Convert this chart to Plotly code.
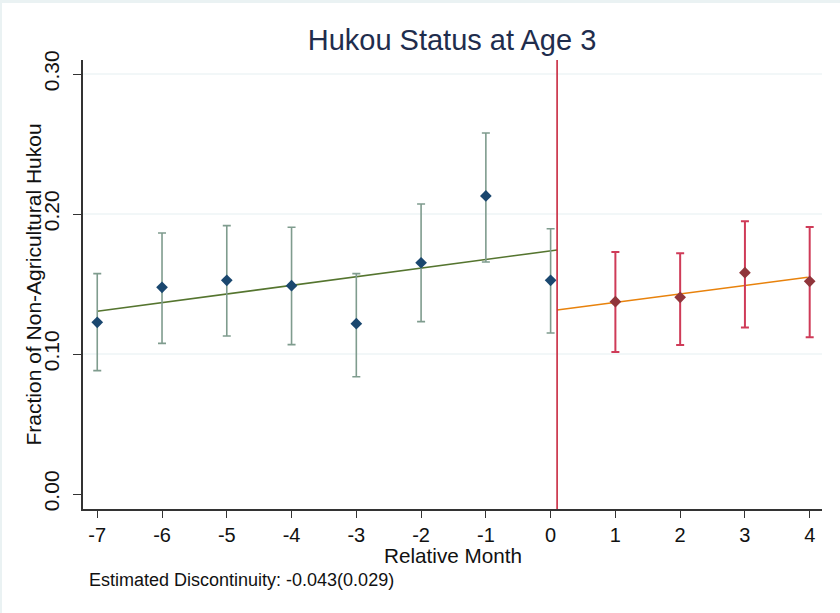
import plotly.graph_objects as go

# Binned means with 95% confidence intervals, by month relative to the cutoff
months_pre = [-7, -6, -5, -4, -3, -2, -1, 0]
mean_pre = [0.1226, 0.1476, 0.1526, 0.1488, 0.1217, 0.1652, 0.2129, 0.1526]
lo_pre = [0.0881, 0.1076, 0.1129, 0.1067, 0.0838, 0.1231, 0.1657, 0.1150]
hi_pre = [0.1574, 0.1864, 0.1917, 0.1905, 0.1574, 0.2071, 0.2579, 0.1895]

months_post = [1, 2, 3, 4]
mean_post = [0.1374, 0.1405, 0.1581, 0.1519]
lo_post = [0.1014, 0.1064, 0.1190, 0.1119]
hi_post = [0.1729, 0.1719, 0.1948, 0.1907]

# Linear fits on each side of the cutoff
cutoff = 0.1
fit_pre_x = [-7, cutoff]
fit_pre_y = [0.1305, 0.1743]
fit_post_x = [cutoff, 3.97]
fit_post_y = [0.1314, 0.1548]

x_ticks = list(range(-7, 5))
x_tick_text = ["-7", "-6", "-5", "-4", "-3", "-2", "-1", "0", "1", "2", "3", "4"]
y_ticks = [0.0, 0.1, 0.2, 0.3]
y_tick_text = ["0.00", "0.10", "0.20", "0.30"]
grid_levels = [0.1, 0.2, 0.3]

title_text = "Hukou Status at Age 3"
x_title = "Relative Month"
y_title = "Fraction of Non-Agricultural Hukou"
note_text = "Estimated Discontinuity: -0.043(0.029)"

FONT = "Liberation Sans, Arial, sans-serif"
W, H = 840, 613
L, R, T, B = 83, 18, 60, 104
plot_h = H - T - B
plot_w = W - L - R


def py(px):
    """Figure pixel row -> paper y coordinate."""
    return (H - B - px) / plot_h


def pxp(px):
    """Figure pixel column -> paper x coordinate."""
    return (px - L) / plot_w


fig = go.Figure()

fig.add_trace(go.Scatter(
    x=fit_pre_x, y=fit_pre_y, mode="lines",
    line=dict(color="#55752f", width=1.6), hoverinfo="skip",
))
fig.add_trace(go.Scatter(
    x=fit_post_x, y=fit_post_y, mode="lines",
    line=dict(color="#e8820c", width=1.6), hoverinfo="skip",
))

fig.add_trace(go.Scatter(
    x=months_pre, y=mean_pre, mode="markers",
    marker=dict(symbol="diamond", size=9, color="#1a476f"),
    error_y=dict(
        type="data", symmetric=False,
        array=[h - m for h, m in zip(hi_pre, mean_pre)],
        arrayminus=[m - l for m, l in zip(mean_pre, lo_pre)],
        color="#7f9c8e", thickness=1.6, width=4,
    ),
))
fig.add_trace(go.Scatter(
    x=months_post, y=mean_post, mode="markers",
    marker=dict(symbol="diamond", size=9, color="#90353b"),
    error_y=dict(
        type="data", symmetric=False,
        array=[h - m for h, m in zip(hi_post, mean_post)],
        arrayminus=[m - l for m, l in zip(mean_post, lo_post)],
        color="#cf3b58", thickness=2, width=4,
    ),
))

shapes = [
    # white graph region inside a thin light frame
    dict(type="rect", xref="paper", yref="paper", layer="below",
         x0=pxp(2), x1=pxp(W + 2), y0=py(H + 2), y1=py(3),
         fillcolor="white", line=dict(width=0)),
]
for g in grid_levels:
    shapes.append(dict(type="line", xref="paper", yref="y", layer="below",
                       x0=0, x1=1, y0=g, y1=g,
                       line=dict(color="#e6eff1", width=1.2)))
shapes.append(dict(type="line", xref="x", yref="paper",
                   x0=cutoff, x1=cutoff, y0=0, y1=1,
                   line=dict(color="#c8283f", width=1.6)))

annotations = [
    dict(text=x_title, xref="paper", yref="paper", x=0.5, y=py(555),
         xanchor="center", yanchor="middle", showarrow=False,
         font=dict(family=FONT, size=20.7, color="#111")),
    dict(text=y_title, xref="paper", yref="paper", x=pxp(33), y=0.5,
         xanchor="center", yanchor="middle", showarrow=False, textangle=-90,
         font=dict(family=FONT, size=21, color="#111")),
    dict(text=note_text, xref="paper", yref="paper", x=pxp(87), y=py(580),
         xanchor="left", yanchor="middle", showarrow=False,
         font=dict(family=FONT, size=18, color="#111")),
]

fig.update_layout(
    width=W, height=H,
    margin=dict(l=L, r=R, t=T, b=B, pad=0),
    paper_bgcolor="#eaf2f3",
    plot_bgcolor="white",
    showlegend=False,
    title=dict(text=title_text, x=pxp(452), xref="paper", xanchor="center",
               y=1 - 40 / H, yref="container", yanchor="middle",
               font=dict(family=FONT, size=29, color="#1f2d4d")),
    shapes=shapes,
    annotations=annotations,
)

fig.update_xaxes(
    range=[-7.22, 4.19], tickmode="array", tickvals=x_ticks,
    ticktext=x_tick_text,
    ticks="outside", ticklen=7, tickwidth=1.4, tickcolor="#333",
    showline=True, linecolor="#333", linewidth=1.6,
    showgrid=False, zeroline=False,
    tickfont=dict(family=FONT, size=20, color="#111"),
)
fig.update_yaxes(
    range=[-0.0107, 0.31], tickmode="array", tickvals=y_ticks,
    ticktext=y_tick_text, tickangle=-90,
    ticks="outside", ticklen=8, tickwidth=1.4, tickcolor="#333",
    ticklabelstandoff=6,
    showline=True, linecolor="#333", linewidth=1.6,
    showgrid=False, zeroline=False,
    tickfont=dict(family=FONT, size=21, color="#111"),
)

fig.write_html("out.html")
